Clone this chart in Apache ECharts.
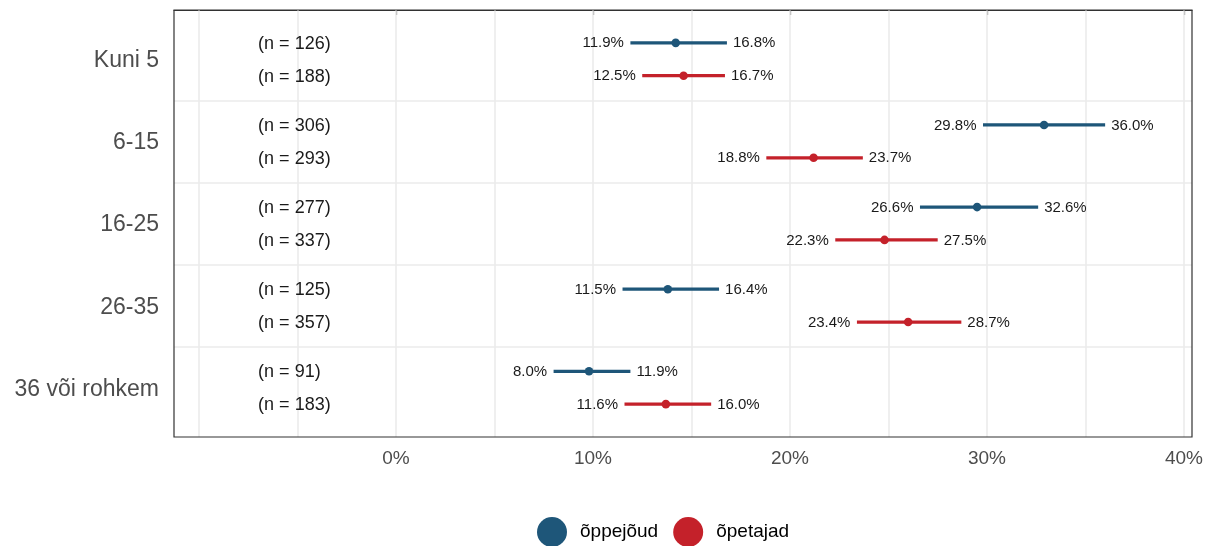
<!DOCTYPE html>
<html>
<head>
<meta charset="utf-8">
<script src="https://cdn.jsdelivr.net/npm/echarts@6/dist/echarts.min.js"></script>
<style>
  html, body { margin: 0; padding: 0; background: #fff; }
  #chart { width: 1215px; height: 546px; }
</style>
</head>
<body>
<div id="chart"></div>
<script>
const groups = ['Kuni 5', '6-15', '16-25', '26-35', '36 või rohkem'];

const oppejoudN = [126, 306, 277, 125, 91];
const oppejoudEst = [14.2, 32.9, 29.5, 13.8, 9.8];
const oppejoudLow = [11.9, 29.8, 26.6, 11.5, 8.0];
const oppejoudHigh = [16.8, 36.0, 32.6, 16.4, 11.9];

const opetajadN = [188, 293, 337, 357, 183];
const opetajadEst = [14.6, 21.2, 24.8, 26.0, 13.7];
const opetajadLow = [12.5, 18.8, 22.3, 23.4, 11.6];
const opetajadHigh = [16.7, 23.7, 27.5, 28.7, 16.0];

const xTicks = [0, 10, 20, 30, 40];
const xGridLines = [-10, -5, 0, 5, 10, 15, 20, 25, 30, 35, 40];

const FONT = '"Liberation Sans", Arial, sans-serif';
const BLUE = '#1e5679';
const RED = '#c4212a';
const N_LABEL_X = -7;

// row position: group centre +/- dodge
const rowY = (i, offset) => 1.2 + 2 * i + offset;

const buildRows = (n, est, low, high, offset) =>
  groups.map((g, i) => [low[i], high[i], rowY(i, offset), est[i], n[i]]);

const renderRow = (color) => (params, api) => {
  const y = api.value(2);
  const lo = api.coord([api.value(0), y]);
  const hi = api.coord([api.value(1), y]);
  const pt = api.coord([api.value(3), y]);
  const nPos = api.coord([N_LABEL_X, y]);
  return {
    type: 'group',
    children: [
      {
        type: 'line',
        shape: { x1: lo[0], y1: lo[1], x2: hi[0], y2: hi[1] },
        style: { stroke: color, lineWidth: 3.2 },
      },
      {
        type: 'circle',
        shape: { cx: pt[0], cy: pt[1], r: 4.3 },
        style: { fill: color },
      },
      {
        type: 'text',
        x: lo[0] - 6.5,
        y: lo[1] + 0.5,
        style: {
          text: api.value(0).toFixed(1) + '%',
          fill: '#1a1a1a', fontSize: 15, fontFamily: FONT,
          align: 'right', verticalAlign: 'middle',
        },
      },
      {
        type: 'text',
        x: hi[0] + 6,
        y: hi[1] + 0.5,
        style: {
          text: api.value(1).toFixed(1) + '%',
          fill: '#1a1a1a', fontSize: 15, fontFamily: FONT,
          align: 'left', verticalAlign: 'middle',
        },
      },
      {
        type: 'text',
        x: nPos[0],
        y: nPos[1] + 1,
        style: {
          text: '(n = ' + api.value(4) + ')',
          fill: '#1a1a1a', fontSize: 18, fontFamily: FONT,
          align: 'left', verticalAlign: 'middle',
        },
      },
    ],
  };
};

const chart = echarts.init(document.getElementById('chart'));

chart.setOption({
  animation: false,
  backgroundColor: '#fff',
  textStyle: { fontFamily: FONT },
  grid: [
    {
      left: 174, right: 23, top: 10, bottom: 109,
      show: true, borderColor: '#333', borderWidth: 1.2, z: 5,
    },
    {
      left: 174, right: 23, top: 19.5, height: 411,
    },
  ],
  xAxis: [
    {
      type: 'value',
      gridIndex: 0,
      min: -11.27,
      max: 40.41,
      splitLine: { show: false },
      axisLine: { show: true, lineStyle: { color: '#333', width: 1.2 } },
      axisTick: {
        show: true, length: 5, customValues: xTicks,
        lineStyle: { color: '#333', width: 1.2 },
      },
      axisLabel: {
        customValues: xTicks,
        formatter: (v) => v + '%',
        color: '#4d4d4d', fontSize: 19, margin: 12,
      },
    },
    { type: 'value', gridIndex: 1, show: false },
  ],
  yAxis: [
    {
      type: 'value',
      gridIndex: 0,
      min: 0,
      max: 10.4,
      inverse: true,
      show: false,
      splitLine: { show: false },
    },
    {
      type: 'category',
      gridIndex: 1,
      inverse: true,
      data: groups,
      axisLine: { show: false },
      axisTick: { show: false },
      splitLine: { show: false },
      axisLabel: { color: '#4d4d4d', fontSize: 23, margin: 15 },
    },
  ],
  legend: {
    left: 537,
    top: 517,
    padding: 0,
    itemWidth: 30,
    itemHeight: 30,
    itemGap: 15,
    textStyle: { color: '#000', fontSize: 19, padding: [0, 0, 0, 8] },
    data: [
      { name: 'õppejõud', icon: 'circle' },
      { name: 'õpetajad', icon: 'circle' },
    ],
  },
  series: [
    {
      type: 'line',
      xAxisIndex: 0,
      yAxisIndex: 0,
      data: [],
      z: 1,
      silent: true,
      markLine: {
        silent: true,
        z: 1,
        symbol: 'none',
        label: { show: false },
        lineStyle: { color: '#ebebeb', width: 1.6, type: 'solid' },
        data: [
          ...xGridLines.map((v) => ({ xAxis: v })),
          ...groups.slice(1).map((g, i) => ({ yAxis: rowY(i, 0) + 1 })),
        ],
      },
    },
    {
      name: 'õppejõud',
      type: 'custom',
      xAxisIndex: 0,
      yAxisIndex: 0,
      z: 10,
      itemStyle: { color: BLUE },
      renderItem: renderRow(BLUE),
      encode: { x: [0, 1, 3], y: 2 },
      data: buildRows(oppejoudN, oppejoudEst, oppejoudLow, oppejoudHigh, -0.4),
    },
    {
      name: 'õpetajad',
      type: 'custom',
      xAxisIndex: 0,
      yAxisIndex: 0,
      z: 10,
      itemStyle: { color: RED },
      renderItem: renderRow(RED),
      encode: { x: [0, 1, 3], y: 2 },
      data: buildRows(opetajadN, opetajadEst, opetajadLow, opetajadHigh, 0.4),
    },
  ],
});
</script>
</body>
</html>
